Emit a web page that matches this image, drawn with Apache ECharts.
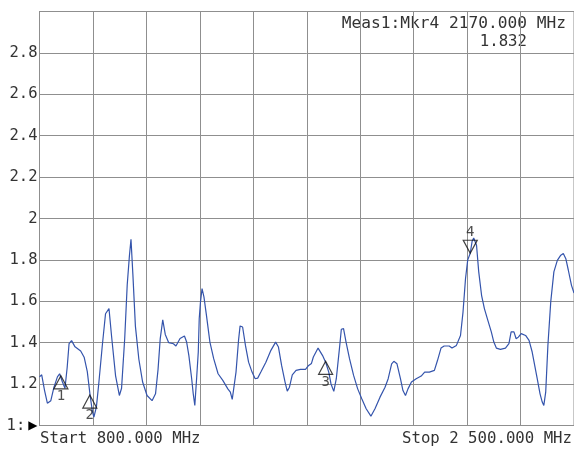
<!DOCTYPE html>
<html>
<head>
<meta charset="utf-8">
<script src="https://cdn.jsdelivr.net/npm/echarts@6/dist/echarts.min.js"></script>
<style>
html,body{margin:0;padding:0;background:#fff;}
#c{width:574px;height:450px;}
</style>
</head>
<body>
<div id="c"></div>
<script>
// ---- data ----
const startFreq = 800;
const stopFreq = 2500;
const freqDiv = 170;
const yTicks = [1, 1.2, 1.4, 1.6, 1.8, 2, 2.2, 2.4, 2.6, 2.8, 3];

const freqs = [
  800,807,816,825,836,846,857,864,873,881,888,894,902,913,931,942,952,961,968,973,
  981,989,1000,1010,1021,1029,1042,1054,1061,1071,1079,1086,1091,1097,1105,1116,1128,1142,1158,1169,
  1177,1184,1192,1200,1211,1226,1234,1247,1261,1268,1275,1284,1289,1294,1300,1305,1308,1312,1317,1323,
  1331,1342,1354,1368,1383,1399,1407,1413,1419,1425,1433,1438,1446,1455,1465,1476,1486,1494,1504,1520,
  1536,1551,1560,1570,1581,1588,1595,1604,1616,1630,1646,1656,1665,1671,1686,1700,1710,1720,1727,1736,
  1744,1755,1760,1767,1775,1786,1799,1812,1825,1839,1854,1867,1883,1899,1909,1920,1927,1937,1948,1956,
  1964,1972,1983,1998,2014,2025,2040,2056,2066,2077,2087,2103,2112,2126,2139,2147,2155,2162,2170,2176,
  2181,2190,2197,2206,2215,2226,2237,2245,2253,2266,2282,2293,2300,2309,2316,2323,2332,2346,2357,2367,
  2375,2383,2392,2399,2404,2410,2417,2426,2436,2447,2458,2466,2474,2482,2492,2500
];
const vswr = [
  1.235,1.245,1.17,1.108,1.12,1.185,1.235,1.25,1.21,1.18,1.28,1.395,1.41,1.38,1.36,1.33,1.26,1.145,1.07,1.04,
  1.09,1.21,1.39,1.54,1.565,1.435,1.24,1.145,1.18,1.42,1.68,1.82,1.90,1.73,1.48,1.32,1.21,1.145,1.12,1.153,
  1.27,1.42,1.51,1.44,1.40,1.395,1.384,1.42,1.432,1.403,1.339,1.226,1.153,1.097,1.234,1.355,1.516,1.597,1.661,1.621,
  1.532,1.403,1.323,1.25,1.218,1.177,1.161,1.126,1.126,1.258,1.411,1.481,1.476,1.387,1.306,1.258,1.226,1.229,1.258,1.306,
  1.363,1.403,1.379,1.29,1.21,1.166,1.185,1.245,1.266,1.271,1.271,1.29,1.30,1.331,1.374,1.339,1.306,1.258,1.202,1.165,
  1.226,1.387,1.465,1.468,1.403,1.323,1.242,1.177,1.129,1.081,1.045,1.081,1.137,1.185,1.226,1.298,1.31,1.298,1.226,1.169,
  1.145,1.177,1.21,1.226,1.239,1.258,1.258,1.266,1.315,1.374,1.384,1.384,1.374,1.387,1.435,1.548,1.71,1.80,1.832,1.89,
  1.906,1.871,1.742,1.629,1.565,1.508,1.452,1.403,1.374,1.368,1.374,1.395,1.452,1.452,1.419,1.427,1.444,1.435,1.411,1.355,
  1.29,1.226,1.153,1.113,1.097,1.161,1.387,1.597,1.742,1.798,1.823,1.831,1.806,1.75,1.677,1.64
];

const markerNames = ['1', '2', '3', '4'];
const markerFreqs = [868, 960, 1710, 2170];
const markerValues = [1.24, 1.147, 1.31, 1.832];
const markerPointsDown = [false, false, false, true];

const activeMarker = 3;
const headerText = 'Meas1:Mkr' + markerNames[activeMarker] + ' ' + markerFreqs[activeMarker].toFixed(3) + ' MHz';
const headerValue = markerValues[activeMarker].toFixed(3);
const startText = 'Start 800.000 MHz';
const stopText = 'Stop 2 500.000 MHz';

// ---- chart ----
const MONO = "'DejaVu Sans Mono', 'Liberation Mono', monospace";
const GRID = '#8f8f8f';
const TXT = '#333';

const lineData = freqs.map((f, i) => [f - startFreq, vswr[i]]);
const markerData = markerFreqs.map((f, i) => {
  const down = markerPointsDown[i];
  return {
    name: markerNames[i],
    value: [f - startFreq, markerValues[i]],
    symbolRotate: down ? 180 : 0,
    symbolOffset: [0, down ? -6.5 : 6.5],
    label: { position: down ? 'top' : 'bottom', distance: 0 }
  };
});

const chart = echarts.init(document.getElementById('c'), null, { renderer: 'canvas' });
chart.setOption({
  animation: false,
  backgroundColor: '#fff',
  grid: {
    left: 39.5, right: -3, top: 11.5, bottom: 24.5,
    show: true, borderColor: GRID, borderWidth: 1, containLabel: false
  },
  xAxis: {
    type: 'value',
    min: 0, max: stopFreq - startFreq, interval: freqDiv,
    axisLabel: { show: false },
    axisTick: { show: false },
    axisLine: { show: true, lineStyle: { color: GRID, width: 1 } },
    splitLine: { show: true, lineStyle: { color: GRID, width: 1 } }
  },
  yAxis: {
    type: 'value',
    min: yTicks[0], max: yTicks[yTicks.length - 1], interval: 0.2,
    axisTick: { show: false },
    axisLine: { show: true, lineStyle: { color: GRID, width: 1 } },
    splitLine: { show: true, lineStyle: { color: GRID, width: 1 } },
    axisLabel: {
      margin: 2,
      color: TXT,
      fontFamily: MONO,
      fontSize: 15.5,
      formatter: function (v) {
        const r = Math.round(v * 10) / 10;
        if (r === yTicks[yTicks.length - 1]) return '';
        if (r === yTicks[0]) return '1:{arr|▶}';
        return String(r);
      },
      rich: {
        arr: { fontFamily: "'DejaVu Sans'", fontSize: 12, color: '#000', padding: [0, 0, 0, 3] }
      }
    }
  },
  series: [
    {
      type: 'line',
      data: lineData,
      showSymbol: false,
      symbol: 'none',
      smooth: false,
      lineStyle: { color: '#3454ac', width: 1.2 },
      z: 3
    },
    {
      type: 'scatter',
      data: markerData,
      symbol: 'triangle',
      symbolSize: [14, 13],
      itemStyle: { color: 'rgba(255,255,255,0)', borderColor: '#111', borderWidth: 1.2 },
      label: {
        show: true,
        formatter: '{b}',
        color: '#222',
        fontFamily: MONO,
        fontSize: 14
      },
      z: 5
    }
  ],
  graphic: [
    { type: 'text', right: 8, top: 16, style: { text: headerText, font: "16.2px " + MONO, fill: TXT } },
    { type: 'text', right: 47, top: 34, style: { text: headerValue, font: "15.7px " + MONO, fill: TXT } },
    { type: 'text', left: 40, top: 431, style: { text: startText, font: "15.7px " + MONO, fill: TXT } },
    { type: 'text', right: 2, top: 431, style: { text: stopText, font: "15.7px " + MONO, fill: TXT } }
  ]
});
</script>
</body>
</html>
